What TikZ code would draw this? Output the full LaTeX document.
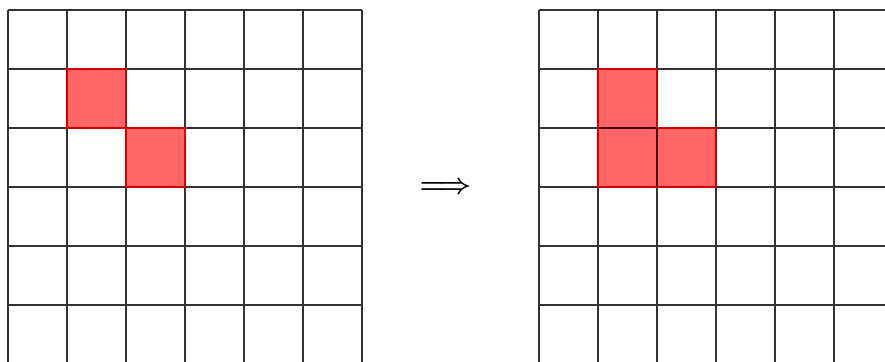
\documentclass[tikz,border=0pt]{standalone}
\usepackage{amsmath,amsbsy}
\begin{document}
\begin{tikzpicture}[x=1pt,y=-1pt,
  gridline/.style={draw=black!80,line width=1.4pt},
  redfill/.style={fill=red!60!white},
  redborder/.style={draw=red!80!black,line width=1.4pt}]
\useasboundingbox (0,0) rectangle (885,361);
\clip (0,0) rectangle (885,361);
\fill[white] (0,0) rectangle (885,361);
% left grid
\begin{scope}[shift={(8,10)}]
  \fill[redfill] (59,59) rectangle (118,118);
  \fill[redfill] (118,118) rectangle (177,177);
  \foreach \i in {0,...,6} {
    \draw[gridline] (\i*59,0) -- (\i*59,413);
    \draw[gridline] (0,\i*59) -- (354,\i*59);
  }
  \draw[redborder] (59,59) rectangle (118,118);
  \draw[redborder] (118,118) rectangle (177,177);
\end{scope}
% right grid
\begin{scope}[shift={(539,10)}]
  \fill[redfill] (59,59) rectangle (118,177);
  \fill[redfill] (118,118) rectangle (177,177);
  \foreach \i in {0,...,6} {
    \draw[gridline] (\i*59,0) -- (\i*59,413);
    \draw[gridline] (0,\i*59) -- (413,\i*59);
  }
  \draw[redborder] (59,59) -- (118,59) -- (118,118) -- (177,118) -- (177,177) -- (59,177) -- cycle;
  \draw[black!70!red,line width=1.2pt] (59,118) -- (118,118) -- (118,177);
\end{scope}
\node[inner sep=0pt] (arr) at (445.5,188) {\scalebox{2.8}{$\boldsymbol{\Longrightarrow}$}};
\end{tikzpicture}
\end{document}
